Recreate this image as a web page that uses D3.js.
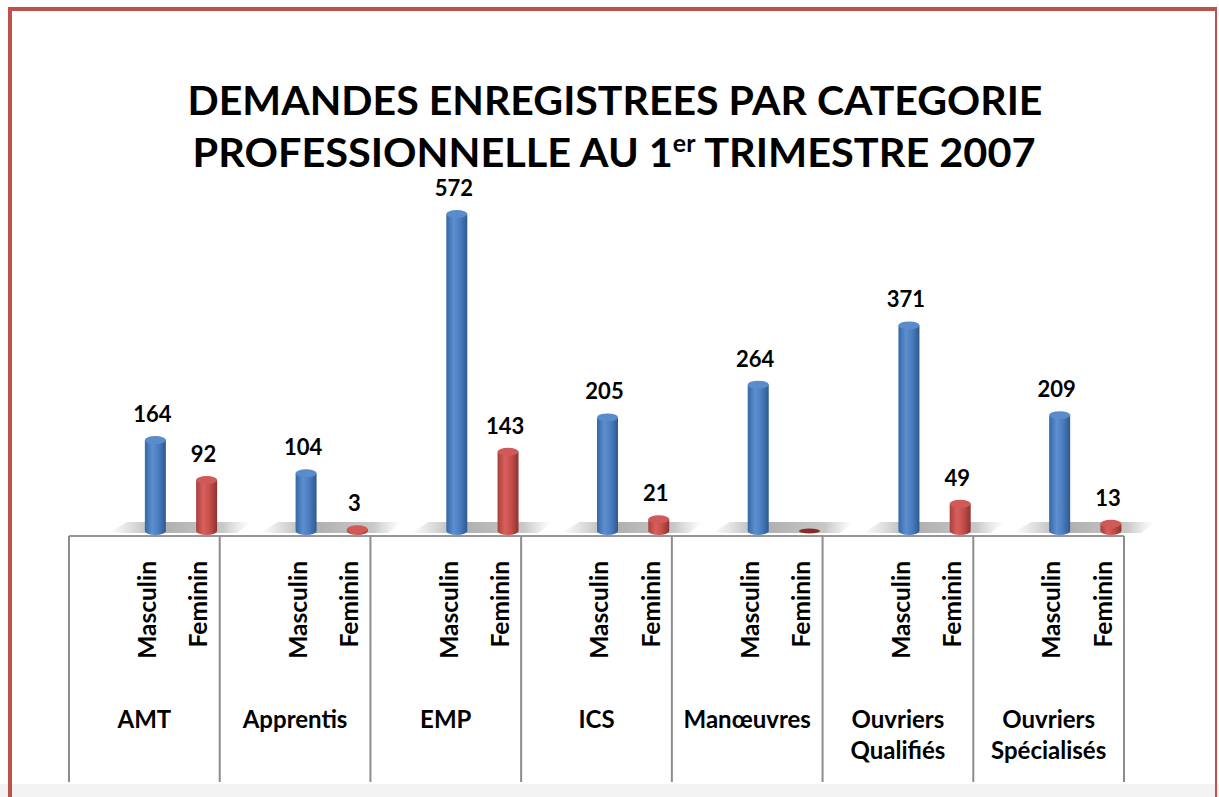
<!DOCTYPE html>
<html>
<head>
<meta charset="utf-8">
<script src="https://cdn.jsdelivr.net/npm/d3@7"></script>
<style>
  html, body { margin: 0; padding: 0; background: #fff; }
  svg { display: block; font-family: Lato, "Open Sans", sans-serif; }
</style>
</head>
<body>
<svg id="chart" width="1219" height="797"></svg>
<script>
// chart data
const categories = ["AMT", "Apprentis", "EMP", "ICS", "Manœuvres", "Ouvriers Qualifiés", "Ouvriers Spécialisés"];
const series = ["Masculin", "Feminin"];
const masculin = [164, 104, 572, 205, 264, 371, 209];
const feminin = [92, 3, 143, 21, 0, 49, 13];
const titleLine1 = "DEMANDES ENREGISTREES PAR CATEGORIE";
const titleLine2 = ["PROFESSIONNELLE AU 1", "er", " TRIMESTRE 2007"];

const width = 1219, height = 797;
const svg = d3.select("#chart");
const defs = svg.append("defs");

// frame
svg.append("rect").attr("x", 0).attr("y", 784).attr("width", width).attr("height", 13).attr("fill", "#f3f3f3");
svg.append("rect").attr("x", 8).attr("y", 7).attr("width", 1208).attr("height", 4).attr("fill", "#c0504d");
svg.append("rect").attr("x", 8).attr("y", 7).attr("width", 4).attr("height", 790).attr("fill", "#c0504d");
svg.append("rect").attr("x", 1215).attr("y", 7).attr("width", 2).attr("height", 790).attr("fill", "#c0504d");

// title
const title = svg.append("g").attr("font-weight", 700).attr("fill", "#000").attr("text-anchor", "middle");
const t1 = title.append("text").attr("x", 615).attr("y", 115).attr("font-size", 40).text(titleLine1);
const t2 = title.append("text").attr("x", 614).attr("y", 167).attr("font-size", 40);
t2.append("tspan").text(titleLine2[0]);
t2.append("tspan").attr("font-size", 24).attr("dy", -15).text(titleLine2[1]);
t2.append("tspan").attr("dy", 15).text(titleLine2[2]);
// stretch title lines to the original widths
[[t1, 855], [t2, 843]].forEach(([t, w]) => {
    t.attr("textLength", w).attr("lengthAdjust", "spacingAndGlyphs");
});

// scales
const x = d3.scaleBand().domain(categories).range([69, 1124]);
const cw = x.bandwidth();
const xs = d3.scaleBand().domain(series).range([0.35 * cw, 1.03 * cw]);
const y = d3.scaleLinear().domain([0, 600]).range([531, 198.5]);
const depth = 8;       // 3d shift of the bars
const r = 10.5, ry = 4;
const baseY = 536;

const rows = categories.map((c, i) => ({ cat: c, values: [masculin[i], feminin[i]] }));

// floor shading, one piece per category
const floorGrad = defs.append("linearGradient").attr("id", "floor");
floorGrad.append("stop").attr("offset", "0%").attr("stop-color", "#b0b0b0").attr("stop-opacity", 0);
floorGrad.append("stop").attr("offset", "35%").attr("stop-color", "#a4a4a4").attr("stop-opacity", 0.9);
floorGrad.append("stop").attr("offset", "80%").attr("stop-color", "#bababa").attr("stop-opacity", 0.8);
floorGrad.append("stop").attr("offset", "100%").attr("stop-color", "#d0d0d0").attr("stop-opacity", 0);

svg.append("g").selectAll("path")
    .data(categories)
    .join("path")
    .attr("d", c => {
        const x0 = x(c);
        return `M${x0 + 40},533 L${x0 + 168},533 L${x0 + 182},522 L${x0 + 58},522 Z`;
    })
    .attr("fill", "url(#floor)");

// axis lines
svg.append("line").attr("x1", 69).attr("x2", 1124).attr("y1", baseY).attr("y2", baseY)
    .attr("stroke", "#969696").attr("stroke-width", 2);
svg.append("g").selectAll("line")
    .data(categories.concat(["end"]))
    .join("line")
    .attr("x1", (d, i) => 69 + i * cw).attr("x2", (d, i) => 69 + i * cw)
    .attr("y1", baseY).attr("y2", 782)
    .attr("stroke", "#8c8c8c").attr("stroke-width", 2);

// cylinder gradients
const palette = {
    Masculin: { stops: ["#3566a6", "#5d8fd0", "#4a7dbf", "#2d5990"], top: "#5a8bcb", flat: "#2e5a96" },
    Feminin: { stops: ["#a8403d", "#d9605c", "#c44e4b", "#8e3330"], top: "#d05a57", flat: "#8a2b2a" }
};
series.forEach(s => {
    const g = defs.append("linearGradient").attr("id", "cyl-" + s);
    palette[s].stops.forEach((col, k) => {
        g.append("stop").attr("offset", [0, 0.35, 0.65, 1][k]).attr("stop-color", col);
    });
});

// bars
const bars = svg.append("g").selectAll("g")
    .data(rows.flatMap(row => series.map((s, j) => ({ cat: row.cat, s, v: row.values[j] }))))
    .join("g");

bars.each(function (d) {
    const g = d3.select(this);
    const cx = x(d.cat) + xs(d.s) + xs.bandwidth() / 2 + depth;
    const y0 = y(0), y1 = y(d.v);
    if (d.v > 0) {
        g.append("path")
            .attr("d", `M${cx - r},${y1} L${cx - r},${y0} A${r},${ry} 0 0 0 ${cx + r},${y0} L${cx + r},${y1} Z`)
            .attr("fill", `url(#cyl-${d.s})`);
        g.append("ellipse").attr("cx", cx).attr("cy", y1).attr("rx", r).attr("ry", ry)
            .attr("fill", palette[d.s].top);
        g.append("text")
            .attr("x", cx - 3).attr("y", y1 - 18)
            .attr("text-anchor", "middle").attr("font-size", 22).attr("font-weight", 700)
            .text(d.v);
    } else {
        g.append("ellipse").attr("cx", cx).attr("cy", y0).attr("rx", r).attr("ry", 2.5)
            .attr("fill", palette[d.s].flat);
    }
});

// series labels (rotated)
svg.append("g").selectAll("text")
    .data(rows.flatMap(row => series.map(s => ({ cat: row.cat, s }))))
    .join("text")
    .attr("transform", d => `translate(${x(d.cat) + xs(d.s) + xs.bandwidth() / 2},561) rotate(-90)`)
    .attr("dy", "0.36em")
    .attr("text-anchor", "end").attr("font-size", 24.5).attr("font-weight", 700)
    .text(d => d.s);

// category labels
svg.append("g").selectAll("text")
    .data(categories)
    .join("text")
    .attr("x", c => x(c) + cw / 2).attr("y", 728)
    .attr("text-anchor", "middle").attr("font-size", 24).attr("font-weight", 700)
    .each(function (c) {
        c.split(" ").forEach((part, k) => {
            d3.select(this).append("tspan")
                .attr("x", x(c) + cw / 2).attr("dy", k === 0 ? 0 : 31)
                .text(part);
        });
    });
</script>
</body>
</html>
